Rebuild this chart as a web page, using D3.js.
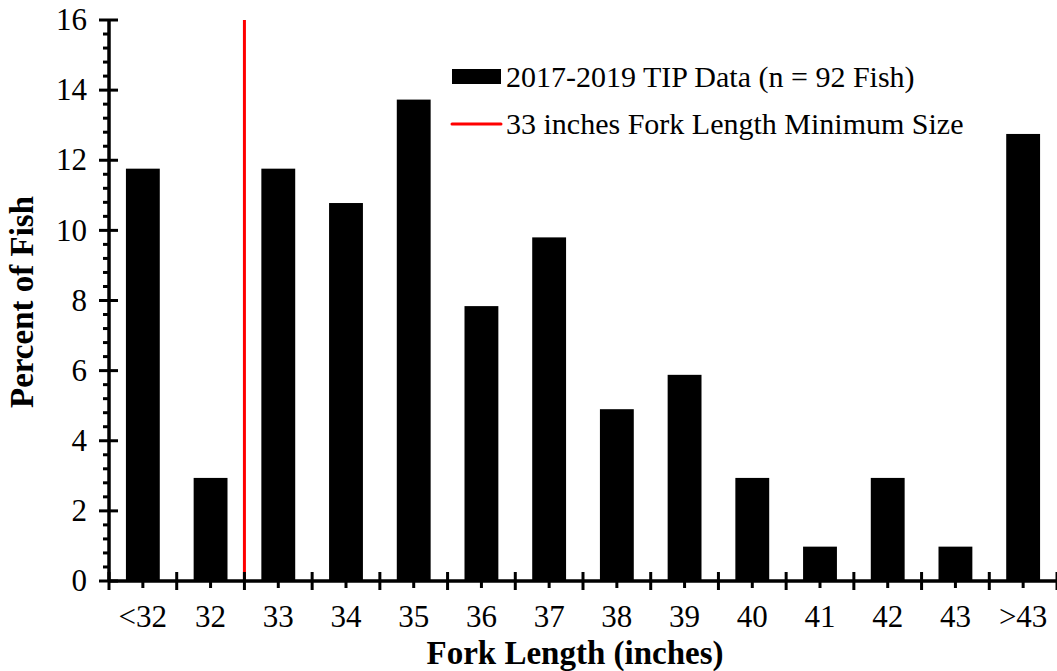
<!DOCTYPE html>
<html>
<head>
<meta charset="utf-8">
<script src="https://cdn.jsdelivr.net/npm/d3@7"></script>
<style>
  body { margin: 0; background: #fff; }
  text { font-family: "Liberation Serif", "Times New Roman", serif; fill: #000; }
</style>
</head>
<body>
<svg id="chart" width="1057" height="671"></svg>
<script>
// fork length bins and percent of fish (counts out of 102)
var categories = ["<32", "32", "33", "34", "35", "36", "37", "38", "39", "40", "41", "42", "43", ">43"];
var percents = [11.76, 2.94, 11.76, 10.78, 13.73, 7.84, 9.80, 4.90, 5.88, 2.94, 0.98, 2.94, 0.98, 12.75];
var yTicks = [0, 2, 4, 6, 8, 10, 12, 14, 16];
var minSizeBoundary = 2; // red line sits between "32" and "33"
var legendLabels = ["2017-2019 TIP Data (n = 92 Fish)", "33 inches Fork Length Minimum Size"];

var svg = d3.select("#chart"),
    margin = {top: 20, right: 0, bottom: 90, left: 109},
    width = +svg.attr("width") - margin.left - margin.right,
    height = +svg.attr("height") - margin.top - margin.bottom;

var x = d3.scaleBand().domain(categories).range([0, width]).paddingInner(0.5).paddingOuter(0.25);
var xb = d3.scaleLinear().domain([0, categories.length]).range([0, width]);
var y = d3.scaleLinear().domain([0, 16]).range([height, 0]);

var g = svg.append("g")
    .attr("transform", "translate(" + margin.left + "," + margin.top + ")");

// bars
g.selectAll(".bar")
    .data(percents)
  .enter().append("rect")
    .attr("class", "bar")
    .attr("x", function(d, i) { return x(categories[i]); })
    .attr("width", x.bandwidth())
    .attr("y", function(d) { return y(d); })
    .attr("height", function(d) { return height - y(d); })
    .attr("fill", "#000");

// red minimum size line
g.append("line")
    .attr("x1", xb(minSizeBoundary)).attr("x2", xb(minSizeBoundary))
    .attr("y1", 0).attr("y2", height)
    .attr("stroke", "#ff0000")
    .attr("stroke-width", 3);

// y axis: minor ticks on the outside, major ticks crossing
var yMinor = d3.range(0, 16.01, 0.4).filter(function(v) { return Math.abs(v / 2 - Math.round(v / 2)) > 0.01; });
var yAxis = g.append("g").attr("class", "axis axis--y");
yAxis.selectAll(".minor").data(yMinor).enter().append("line")
    .attr("x1", -6).attr("x2", 0)
    .attr("y1", function(d) { return y(d); }).attr("y2", function(d) { return y(d); })
    .attr("stroke", "#000").attr("stroke-width", 3);
yAxis.selectAll(".major").data(yTicks).enter().append("line")
    .attr("x1", -10).attr("x2", 9)
    .attr("y1", function(d) { return y(d); }).attr("y2", function(d) { return y(d); })
    .attr("stroke", "#000").attr("stroke-width", 3);
yAxis.selectAll(".lbl").data(yTicks).enter().append("text")
    .attr("x", -22)
    .attr("y", function(d) { return y(d); })
    .attr("dy", "0.33em")
    .attr("text-anchor", "end")
    .style("font-size", "31px")
    .text(function(d) { return d; });
yAxis.append("line")
    .attr("x1", 0).attr("x2", 0).attr("y1", -1).attr("y2", height + 1)
    .attr("stroke", "#000").attr("stroke-width", 3.5);

// x axis: major ticks at bin edges, minor ticks at bin centres
var xAxis = g.append("g").attr("class", "axis axis--x")
    .attr("transform", "translate(0," + height + ")");
xAxis.selectAll(".major").data(d3.range(0, categories.length + 1)).enter().append("line")
    .attr("x1", function(d) { return xb(d); }).attr("x2", function(d) { return xb(d); })
    .attr("y1", -9).attr("y2", 9)
    .attr("stroke", "#000").attr("stroke-width", 3);
xAxis.selectAll(".minor").data(categories).enter().append("line")
    .attr("x1", function(d) { return x(d) + x.bandwidth() / 2; })
    .attr("x2", function(d) { return x(d) + x.bandwidth() / 2; })
    .attr("y1", 0).attr("y2", 7)
    .attr("stroke", "#000").attr("stroke-width", 3);
xAxis.selectAll(".lbl").data(categories).enter().append("text")
    .attr("x", function(d) { return x(d) + x.bandwidth() / 2; })
    .attr("y", 46)
    .attr("text-anchor", "middle")
    .style("font-size", "31px")
    .text(function(d) { return d; });
xAxis.append("line")
    .attr("x1", 0).attr("x2", width).attr("y1", 0).attr("y2", 0)
    .attr("stroke", "#000").attr("stroke-width", 3.5);

// axis titles
svg.append("text")
    .attr("x", 575)
    .attr("y", 664)
    .attr("text-anchor", "middle")
    .style("font-size", "33px").style("font-weight", "bold")
    .text("Fork Length (inches)");
svg.append("text")
    .attr("transform", "translate(33,302) rotate(-90)")
    .attr("text-anchor", "middle")
    .style("font-size", "33px").style("font-weight", "bold")
    .text("Percent of Fish");

// legend
var legend = svg.append("g").attr("transform", "translate(452,69)");
legend.append("rect").attr("x", 0).attr("y", 0).attr("width", 49).attr("height", 15).attr("fill", "#000");
legend.append("text").attr("x", 54).attr("y", 18).style("font-size", "30px").text(legendLabels[0]);
legend.append("line").attr("x1", 0).attr("x2", 49).attr("y1", 55).attr("y2", 55)
    .attr("stroke", "#ff0000").attr("stroke-width", 3).attr("stroke-linecap", "round");
legend.append("text").attr("x", 54).attr("y", 65).style("font-size", "30px").text(legendLabels[1]);
</script>
</body>
</html>
